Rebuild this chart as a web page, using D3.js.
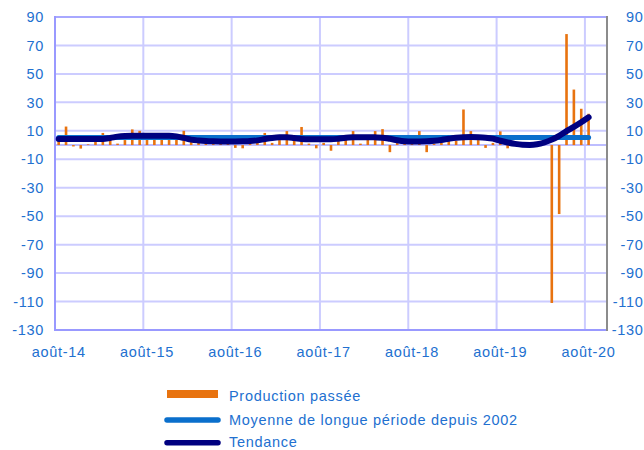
<!DOCTYPE html>
<html><head><meta charset="utf-8">
<script src="https://cdn.jsdelivr.net/npm/d3@7"></script>
<style>
body{margin:0;background:#fff;}
svg text{font-family:Arial,"Liberation Sans",sans-serif;}
</style></head><body>
<svg id="c" width="644" height="450"></svg>
<script>
// ---- data ----
const months = [
 "2014-08","2014-09","2014-10","2014-11","2014-12",
 "2015-01","2015-02","2015-03","2015-04","2015-05","2015-06","2015-07","2015-08","2015-09","2015-10","2015-11","2015-12",
 "2016-01","2016-02","2016-03","2016-04","2016-05","2016-06","2016-07","2016-08","2016-09","2016-10","2016-11","2016-12",
 "2017-01","2017-02","2017-03","2017-04","2017-05","2017-06","2017-07","2017-08","2017-09","2017-10","2017-11","2017-12",
 "2018-01","2018-02","2018-03","2018-04","2018-05","2018-06","2018-07","2018-08","2018-09","2018-10","2018-11","2018-12",
 "2019-01","2019-02","2019-03","2019-04","2019-05","2019-06","2019-07","2019-08","2019-09","2019-10","2019-11","2019-12",
 "2020-01","2020-02","2020-03","2020-04","2020-05","2020-06","2020-07","2020-08","2020-09","2020-10"
];
const productionPassee = [
 3, 13, -1, -2.5, 0.5,
 2.5, 8.5, 3.5, 1, 3.5, 11, 10, 5, 5, 5, 5, 5,
 10, 3, 1.5, 2, 1, 2, 1, -2, -2.3, 1, 2, 8.5,
 1.5, 3.5, 9.8, 4, 12.7, 1, -2.3, 1.5, -4, 3, 4, 9.8,
 1, 4, 9.8, 11.2, -5, 2, 1, 1.5, 9.8, -5, 1, 1.5,
 3, 3, 25, 9.8, 3.5, -2, 1.5, 9.6, -2.3, 1, 1.5, 1,
 1.5, 2, -111, -48.5, 78, 39, 25.5, 22
];
const tendance = [
 4.2, 4.2, 4.2, 4.2, 4.2,
 4.2, 4.3, 5.0, 5.9, 6.4, 6.6, 6.6, 6.6, 6.6, 6.6, 6.6, 6.1,
 5.0, 3.8, 3.2, 2.8, 2.6, 2.5, 2.5, 2.5, 2.6, 2.8, 3.3, 4.2,
 5.0, 5.4, 5.4, 4.9, 4.3, 4.0, 4.0, 4.0, 4.0, 4.4, 5.1, 5.4,
 5.5, 5.5, 5.4, 5.2, 4.4, 3.4, 2.7, 2.5, 2.5, 2.6, 3.0, 3.6,
 4.4, 5.1, 5.5, 5.6, 5.5, 5.2, 4.5, 3.0, 1.8, 0.8, 0.2, 0.1,
 0.5, 1.8, 3.8, 6.5, 9.8, 12.8, 16, 19.5
];
const moyenneLonguePeriode = 5.3;
const yTicks = [90,70,50,30,10,-10,-30,-50,-70,-90,-110,-130];
const xTickMonths = ["2014-08","2015-08","2016-08","2017-08","2018-08","2019-08","2020-08"];
const xTickLabels = ["août-14","août-15","août-16","août-17","août-18","août-19","août-20"];
const legendLabels = ["Production passée","Moyenne de longue période depuis 2002","Tendance"];

// ---- style ----
const C = {orange:"#E8730F", moy:"#0A6FCC", trend:"#000080", text:"#2270D0",
  grid:"#ccccff", axis:"#9999ff", right:"#8c8c8c", zero:"#bdbdff"};
const L = 55, R = 607, T = 17, B = 330;

const svg = d3.select("#c");
const x = d3.scaleBand().domain(months).range([L, R]).paddingInner(0).paddingOuter(0);
const y = d3.scaleLinear().domain([-130, 90]).range([B, T]);
const cx = m => x(m) + x.bandwidth() / 2;

// gridlines horizontal
svg.append("g").selectAll("line").data(yTicks).join("line")
  .attr("x1", L).attr("x2", R).attr("y1", d => y(d)).attr("y2", d => y(d))
  .attr("stroke", C.grid).attr("stroke-width", 2);
// gridlines vertical
svg.append("g").selectAll("line").data(xTickMonths.slice(1)).join("line")
  .attr("x1", d => x(d)).attr("x2", d => x(d)).attr("y1", T).attr("y2", B)
  .attr("stroke", C.grid).attr("stroke-width", 2);
// zero line
svg.append("line").attr("x1", L).attr("x2", R).attr("y1", y(0)).attr("y2", y(0))
  .attr("stroke", C.zero).attr("stroke-width", 2);
// borders
svg.append("line").attr("x1", L).attr("x2", R).attr("y1", T).attr("y2", T).attr("stroke", "#a8a8ff").attr("stroke-width", 2);
svg.append("line").attr("x1", L).attr("x2", R).attr("y1", B).attr("y2", B).attr("stroke", C.axis).attr("stroke-width", 2);
svg.append("line").attr("x1", L).attr("x2", L).attr("y1", T - 1).attr("y2", B + 1).attr("stroke", C.axis).attr("stroke-width", 2);
svg.append("line").attr("x1", R).attr("x2", R).attr("y1", T - 1).attr("y2", B + 1).attr("stroke", C.right).attr("stroke-width", 2);

// bars
const barData = productionPassee.map((v, i) => ({m: months[i], v}));
const bw = 2.6;
svg.append("g").selectAll("rect").data(barData).join("rect")
  .attr("x", d => cx(d.m) - bw / 2).attr("width", bw)
  .attr("y", d => Math.min(y(d.v), y(0)))
  .attr("height", d => Math.abs(y(d.v) - y(0)))
  .attr("fill", C.orange);

// moyenne line
const lastIdx = tendance.length - 1;
svg.append("path")
  .attr("d", d3.line()([[cx(months[0]), y(moyenneLonguePeriode)], [cx(months[lastIdx]), y(moyenneLonguePeriode)]]))
  .attr("stroke", C.moy).attr("stroke-width", 5).attr("stroke-linecap", "round").attr("fill", "none");

// trend line
const trendData = tendance.map((v, i) => ({m: months[i], v}));
svg.append("path").datum(trendData)
  .attr("d", d3.line().x(d => cx(d.m)).y(d => y(d.v)).curve(d3.curveMonotoneX))
  .attr("stroke", C.trend).attr("stroke-width", 6).attr("stroke-linecap", "round")
  .attr("stroke-linejoin", "round").attr("fill", "none");

// y labels
const fs = "14.5px", ls = "0.7px";
svg.append("g").selectAll("text").data(yTicks).join("text")
  .attr("x", 44).attr("y", d => y(d)).attr("dy", "0.36em").attr("text-anchor", "end")
  .attr("font-size", fs).attr("letter-spacing", ls).attr("fill", C.text).text(d => d);
svg.append("g").selectAll("text").data(yTicks).join("text")
  .attr("x", 643.5).attr("y", d => y(d)).attr("dy", "0.36em").attr("text-anchor", "end")
  .attr("font-size", fs).attr("letter-spacing", ls).attr("fill", C.text).text(d => d);
// x labels
svg.append("g").selectAll("text").data(xTickMonths).join("text")
  .attr("x", d => cx(d)).attr("y", 356.5).attr("text-anchor", "middle")
  .attr("font-size", fs).attr("letter-spacing", ls).attr("fill", C.text)
  .text((d, i) => xTickLabels[i]);

// legend
const lg = svg.append("g");
lg.append("rect").attr("x", 167).attr("y", 390).attr("width", 51).attr("height", 8).attr("fill", C.orange);
lg.append("line").attr("x1", 167).attr("x2", 218).attr("y1", 420).attr("y2", 420)
  .attr("stroke", C.moy).attr("stroke-width", 5.5).attr("stroke-linecap", "round");
lg.append("line").attr("x1", 167).attr("x2", 218).attr("y1", 442.7).attr("y2", 442.7)
  .attr("stroke", C.trend).attr("stroke-width", 5.5).attr("stroke-linecap", "round");
const lgY = [400.6, 424.8, 446.6];
lg.selectAll("text").data(legendLabels).join("text")
  .attr("x", 229).attr("y", (d, i) => lgY[i])
  .attr("font-size", fs).attr("letter-spacing", ls).attr("fill", C.text).text(d => d);
</script>
</body></html>
